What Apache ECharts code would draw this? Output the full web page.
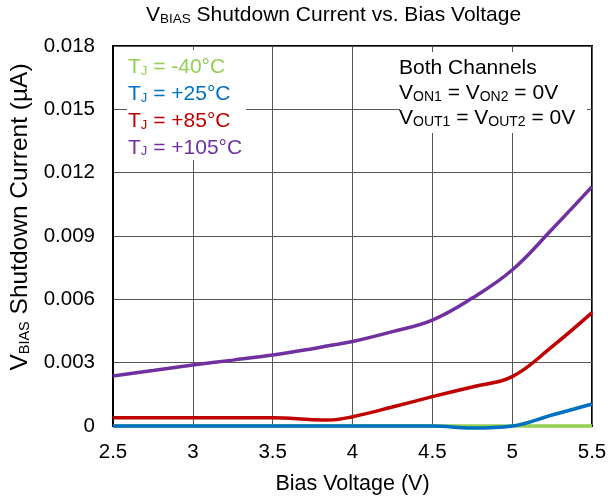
<!DOCTYPE html>
<html>
<head>
<meta charset="utf-8">
<script src="https://cdn.jsdelivr.net/npm/echarts@6/dist/echarts.min.js"></script>
<style>
  html, body { margin: 0; padding: 0; background: #fff; }
  #chart { width: 608px; height: 497px; }
</style>
</head>
<body>
<div id="chart"></div>
<script>
// bias voltage (V)
const xVals = [2.5, 2.75, 3.0, 3.25, 3.5, 3.75, 3.85, 4.0, 4.25, 4.5, 4.75, 5.0, 5.25, 5.5]
// shutdown current (uA) per junction temperature
const tjM40 = [0, 0, 0, 0, 0, 0, 0, 0, 0, 0, 0, 0, 0, 0]
const tj25 = [0, 0, 0, 0, 0, 0, 0, 0, 0, 0, -0.0001, 0.0000, 0.00052, 0.00104]
const tj85 = [0.00039, 0.00039, 0.00039, 0.00039, 0.00039, 0.0003, 0.00028, 0.00044, 0.0009, 0.00139, 0.00185, 0.00234, 0.00376, 0.00537]
const tj105 = [0.00237, 0.00263, 0.00289, 0.00312, 0.00336, 0.00366, 0.0038, 0.0040, 0.00447, 0.00502, 0.00606, 0.00739, 0.00932, 0.01134]
const yTicks = ['0', '0.003', '0.006', '0.009', '0.012', '0.015', '0.018']

const seriesInfo = [
  { name: 'TJ = -40°C', label: '-40°C', color: '#92D050', data: tjM40 },
  { name: 'TJ = +25°C', label: '+25°C', color: '#0070C0', data: tj25 },
  { name: 'TJ = +85°C', label: '+85°C', color: '#C00000', data: tj85 },
  { name: 'TJ = +105°C', label: '+105°C', color: '#7030A0', data: tj105 }
]

const font = 'Liberation Sans, Arial, sans-serif'
const mychart = echarts.init(document.getElementById('chart'))

// text with subscript parts: main size / sub size
function subRich (color, size, subSize) {
  return {
    m: { fontSize: size, fontFamily: font, fill: color, lineHeight: size + 4, verticalAlign: 'bottom' },
    s: { fontSize: subSize, fontFamily: font, fill: color, lineHeight: subSize - 2, verticalAlign: 'bottom' }
  }
}

let legendTexts = seriesInfo.map((s, i) => ({
  type: 'text',
  left: 128,
  top: 57 + i * 26.8,
  z: 5,
  style: {
    text: '{m|T}{s|J}{m| = ' + s.label + '}',
    rich: subRich(s.color, 21, 13)
  }
}))

mychart.setOption({
  animation: false,
  grid: {
    left: 113,
    right: 16,
    top: 46,
    bottom: 71,
    outerBoundsMode: 'none',
    show: true,
    borderColor: '#000',
    borderWidth: 2,
    z: 0
  },
  xAxis: {
    type: 'value',
    min: 2.5,
    max: 5.5,
    interval: 0.5,
    name: 'Bias Voltage (V)',
    nameLocation: 'middle',
    nameGap: 47,
    nameTextStyle: { fontSize: 21.5, fontFamily: font, color: '#000' },
    axisLine: { show: true, onZero: false, lineStyle: { color: '#000', width: 2 } },
    axisTick: { show: false },
    axisLabel: { fontSize: 20.5, fontFamily: font, color: '#000', margin: 16 },
    splitLine: { show: true, lineStyle: { color: '#555', width: 1 } }
  },
  yAxis: {
    type: 'value',
    min: 0,
    max: 0.018,
    interval: 0.003,
    axisLine: { show: true, lineStyle: { color: '#000', width: 2 } },
    axisTick: { show: false },
    axisLabel: {
      fontSize: 20.5,
      fontFamily: font,
      color: '#000',
      margin: 18,
      formatter: (v) => yTicks[Math.round(v / 0.003)]
    },
    splitLine: { show: true, lineStyle: { color: '#555', width: 1 } }
  },
  graphic: [
    // title
    {
      type: 'text',
      left: 146,
      top: 5,
      style: {
        text: '{m|V}{s|BIAS}{m| Shutdown Current vs. Bias Voltage}',
        rich: subRich('#000', 21, 13.5)
      }
    },
    // y axis name
    {
      type: 'text',
      x: 18,
      y: 217,
      rotation: Math.PI / 2,
      style: {
        text: '{m|V}{s|BIAS}{m| Shutdown Current (µA)}',
        align: 'center',
        verticalAlign: 'middle',
        rich: subRich('#000', 24.5, 14.5)
      }
    },
    // white box behind legend
    {
      type: 'rect',
      z: 1,
      shape: { x: 127, y: 50, width: 119, height: 110 },
      style: { fill: '#fff' }
    },
    // white box behind notes
    {
      type: 'rect',
      z: 1,
      shape: { x: 400, y: 52, width: 187, height: 81 },
      style: { fill: '#fff' }
    },
    {
      type: 'text',
      left: 399,
      top: 58,
      z: 5,
      style: { text: 'Both Channels', fontSize: 21, fontFamily: font, fill: '#000' }
    },
    {
      type: 'text',
      left: 399,
      top: 83,
      z: 5,
      style: {
        text: '{m|V}{s|ON1}{m| = V}{s|ON2}{m| = 0V}',
        rich: subRich('#000', 21, 14)
      }
    },
    {
      type: 'text',
      left: 399,
      top: 108,
      z: 5,
      style: {
        text: '{m|V}{s|OUT1}{m| = V}{s|OUT2}{m| = 0V}',
        rich: subRich('#000', 21, 14)
      }
    }
  ].concat(legendTexts),
  series: seriesInfo.map((s) => ({
    name: s.name,
    type: 'line',
    smooth: 0.4,
    clip: false,
    showSymbol: false,
    z: 3,
    data: xVals.map((x, i) => [x, s.data[i]]),
    lineStyle: { color: s.color, width: 3.5 },
    itemStyle: { color: s.color }
  }))
})
</script>
</body>
</html>
